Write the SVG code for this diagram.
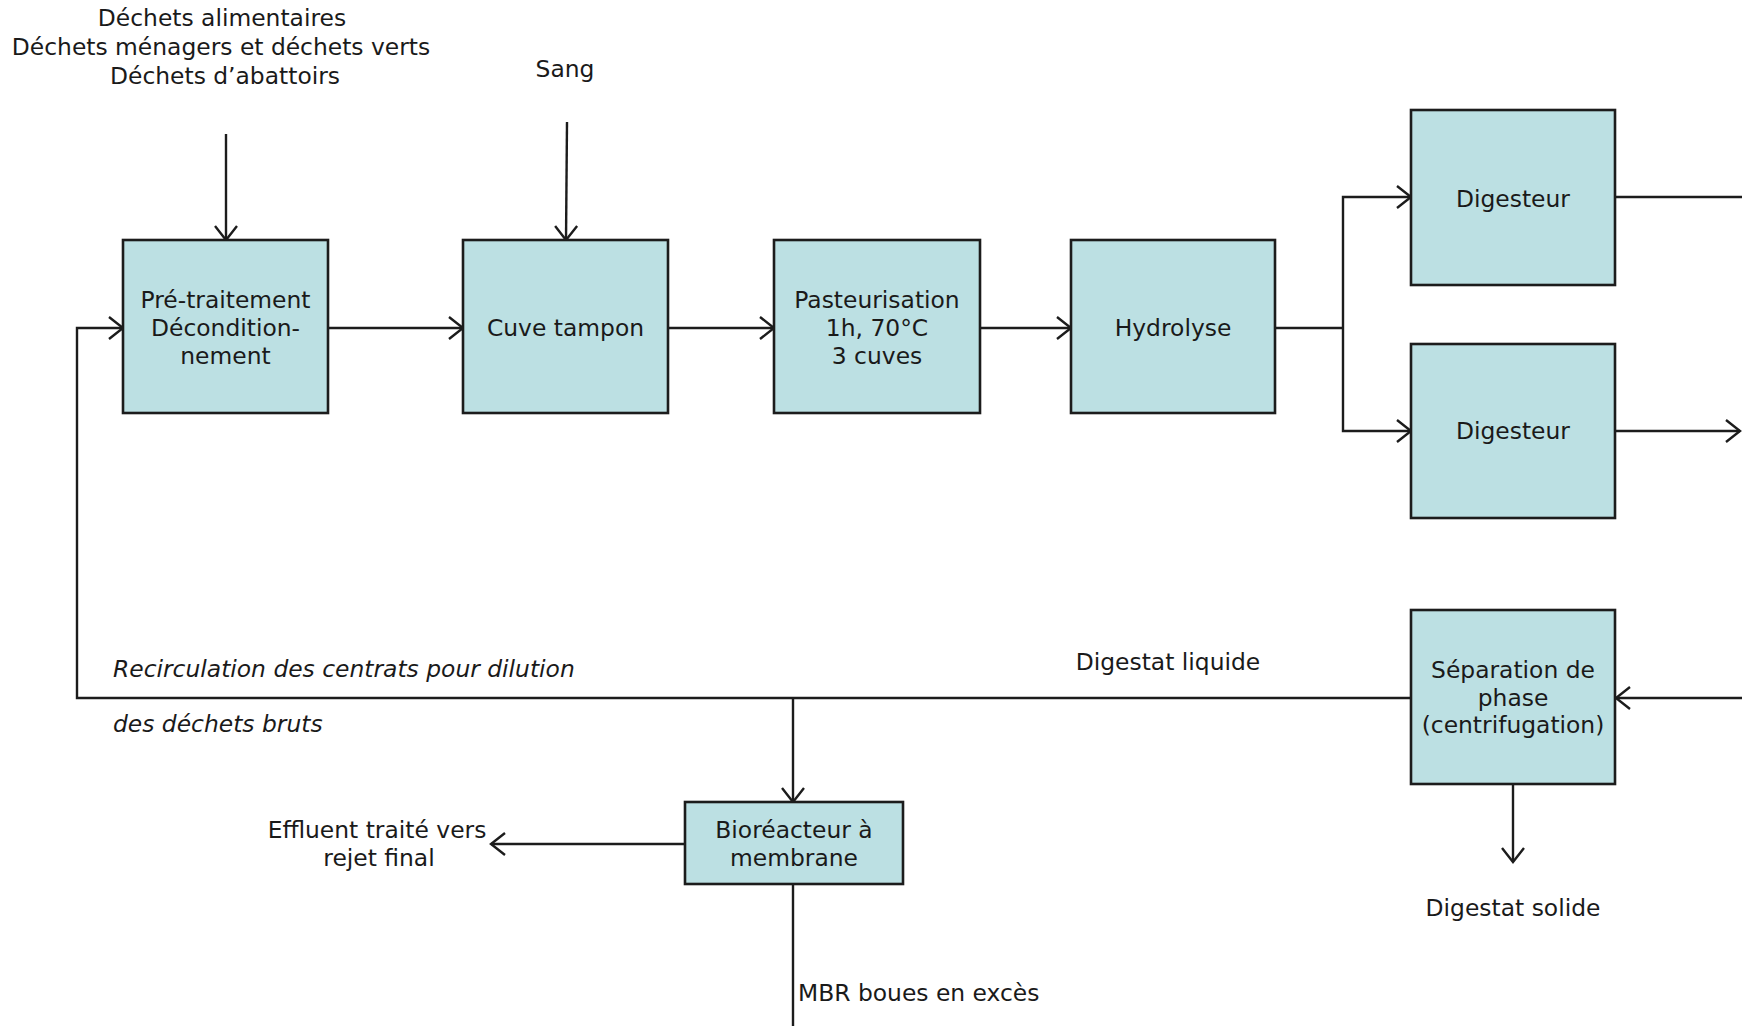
<svg xmlns="http://www.w3.org/2000/svg" width="1742" height="1026" viewBox="0 0 1742 1026">
<style>
.box{fill:#bce0e3;stroke:#1c1c1c;stroke-width:2.6}
.t{font-family:"DejaVu Sans",Verdana,sans-serif;font-size:23.4px;fill:#1a1a1a}
.c{text-anchor:middle}
.i{font-style:italic}
.ln{fill:none;stroke:#1c1c1c;stroke-width:2.4}
</style>
<defs>
<marker id="ah" markerUnits="userSpaceOnUse" markerWidth="18" markerHeight="26" refX="16" refY="13" orient="auto">
<path d="M2,2 L16,13 L2,24" fill="none" stroke="#1c1c1c" stroke-width="2.4"/>
</marker>
</defs>
<rect width="1742" height="1026" fill="#fff"/>
<g id="labels">
<text class="t c" x="222" y="26">Déchets alimentaires</text>
<text class="t c" x="221" y="55">Déchets ménagers et déchets verts</text>
<text class="t c" x="225" y="84">Déchets d’abattoirs</text>
<text class="t c" x="565" y="77">Sang</text>
<text class="t c" x="1168" y="670">Digestat liquide</text>
<text class="t i" x="113" y="677">Recirculation des centrats pour dilution</text>
<text class="t i" x="113" y="732">des déchets bruts</text>
<text class="t c" x="1513" y="916">Digestat solide</text>
<text class="t" x="798" y="1001">MBR boues en excès</text>
<text class="t c" x="377" y="838">Effluent traité vers</text>
<text class="t c" x="379" y="866">rejet final</text>
</g>
<g id="connectors">
<path class="ln" d="M226,134 V240" marker-end="url(#ah)"/>
<path class="ln" d="M567,122 L566,240" marker-end="url(#ah)"/>
<path class="ln" d="M328,328 H463" marker-end="url(#ah)"/>
<path class="ln" d="M668,328 H774" marker-end="url(#ah)"/>
<path class="ln" d="M980,328 H1071" marker-end="url(#ah)"/>
<path class="ln" d="M1275,328 H1343"/>
<path class="ln" d="M1343,328 V197 H1411" marker-end="url(#ah)"/>
<path class="ln" d="M1343,328 V431 H1411" marker-end="url(#ah)"/>
<path class="ln" d="M1615,197 H1742"/>
<path class="ln" d="M1615,431 H1740" marker-end="url(#ah)"/>
<path class="ln" d="M1742,698 H1616" marker-end="url(#ah)"/>
<path class="ln" d="M1411,698 H77 V328 H123" marker-end="url(#ah)"/>
<path class="ln" d="M793,698 V802" marker-end="url(#ah)"/>
<path class="ln" d="M685,844 H491" marker-end="url(#ah)"/>
<path class="ln" d="M793,884 V1026"/>
<path class="ln" d="M1513,784 V862" marker-end="url(#ah)"/>
</g>
<g id="n-pretraitement">
<rect class="box" x="123" y="240" width="205" height="173"/>
<text class="t c" x="225.5" y="308">Pré-traitement</text>
<text class="t c" x="225.5" y="336">Décondition-</text>
<text class="t c" x="225.5" y="364">nement</text>
</g>
<g id="n-cuve">
<rect class="box" x="463" y="240" width="205" height="173"/>
<text class="t c" x="565.5" y="336">Cuve tampon</text>
</g>
<g id="n-pasteurisation">
<rect class="box" x="774" y="240" width="206" height="173"/>
<text class="t c" x="877" y="308">Pasteurisation</text>
<text class="t c" x="877" y="336">1h, 70°C</text>
<text class="t c" x="877" y="364">3 cuves</text>
</g>
<g id="n-hydrolyse">
<rect class="box" x="1071" y="240" width="204" height="173"/>
<text class="t c" x="1173" y="336">Hydrolyse</text>
</g>
<g id="n-digesteur1">
<rect class="box" x="1411" y="110" width="204" height="175"/>
<text class="t c" x="1513" y="207">Digesteur</text>
</g>
<g id="n-digesteur2">
<rect class="box" x="1411" y="344" width="204" height="174"/>
<text class="t c" x="1513" y="439">Digesteur</text>
</g>
<g id="n-separation">
<rect class="box" x="1411" y="610" width="204" height="174"/>
<text class="t c" x="1513" y="678">Séparation de</text>
<text class="t c" x="1513" y="706">phase</text>
<text class="t c" x="1513" y="733">(centrifugation)</text>
</g>
<g id="n-bioreacteur">
<rect class="box" x="685" y="802" width="218" height="82"/>
<text class="t c" x="794" y="838">Bioréacteur à</text>
<text class="t c" x="794" y="866">membrane</text>
</g>
</svg>
